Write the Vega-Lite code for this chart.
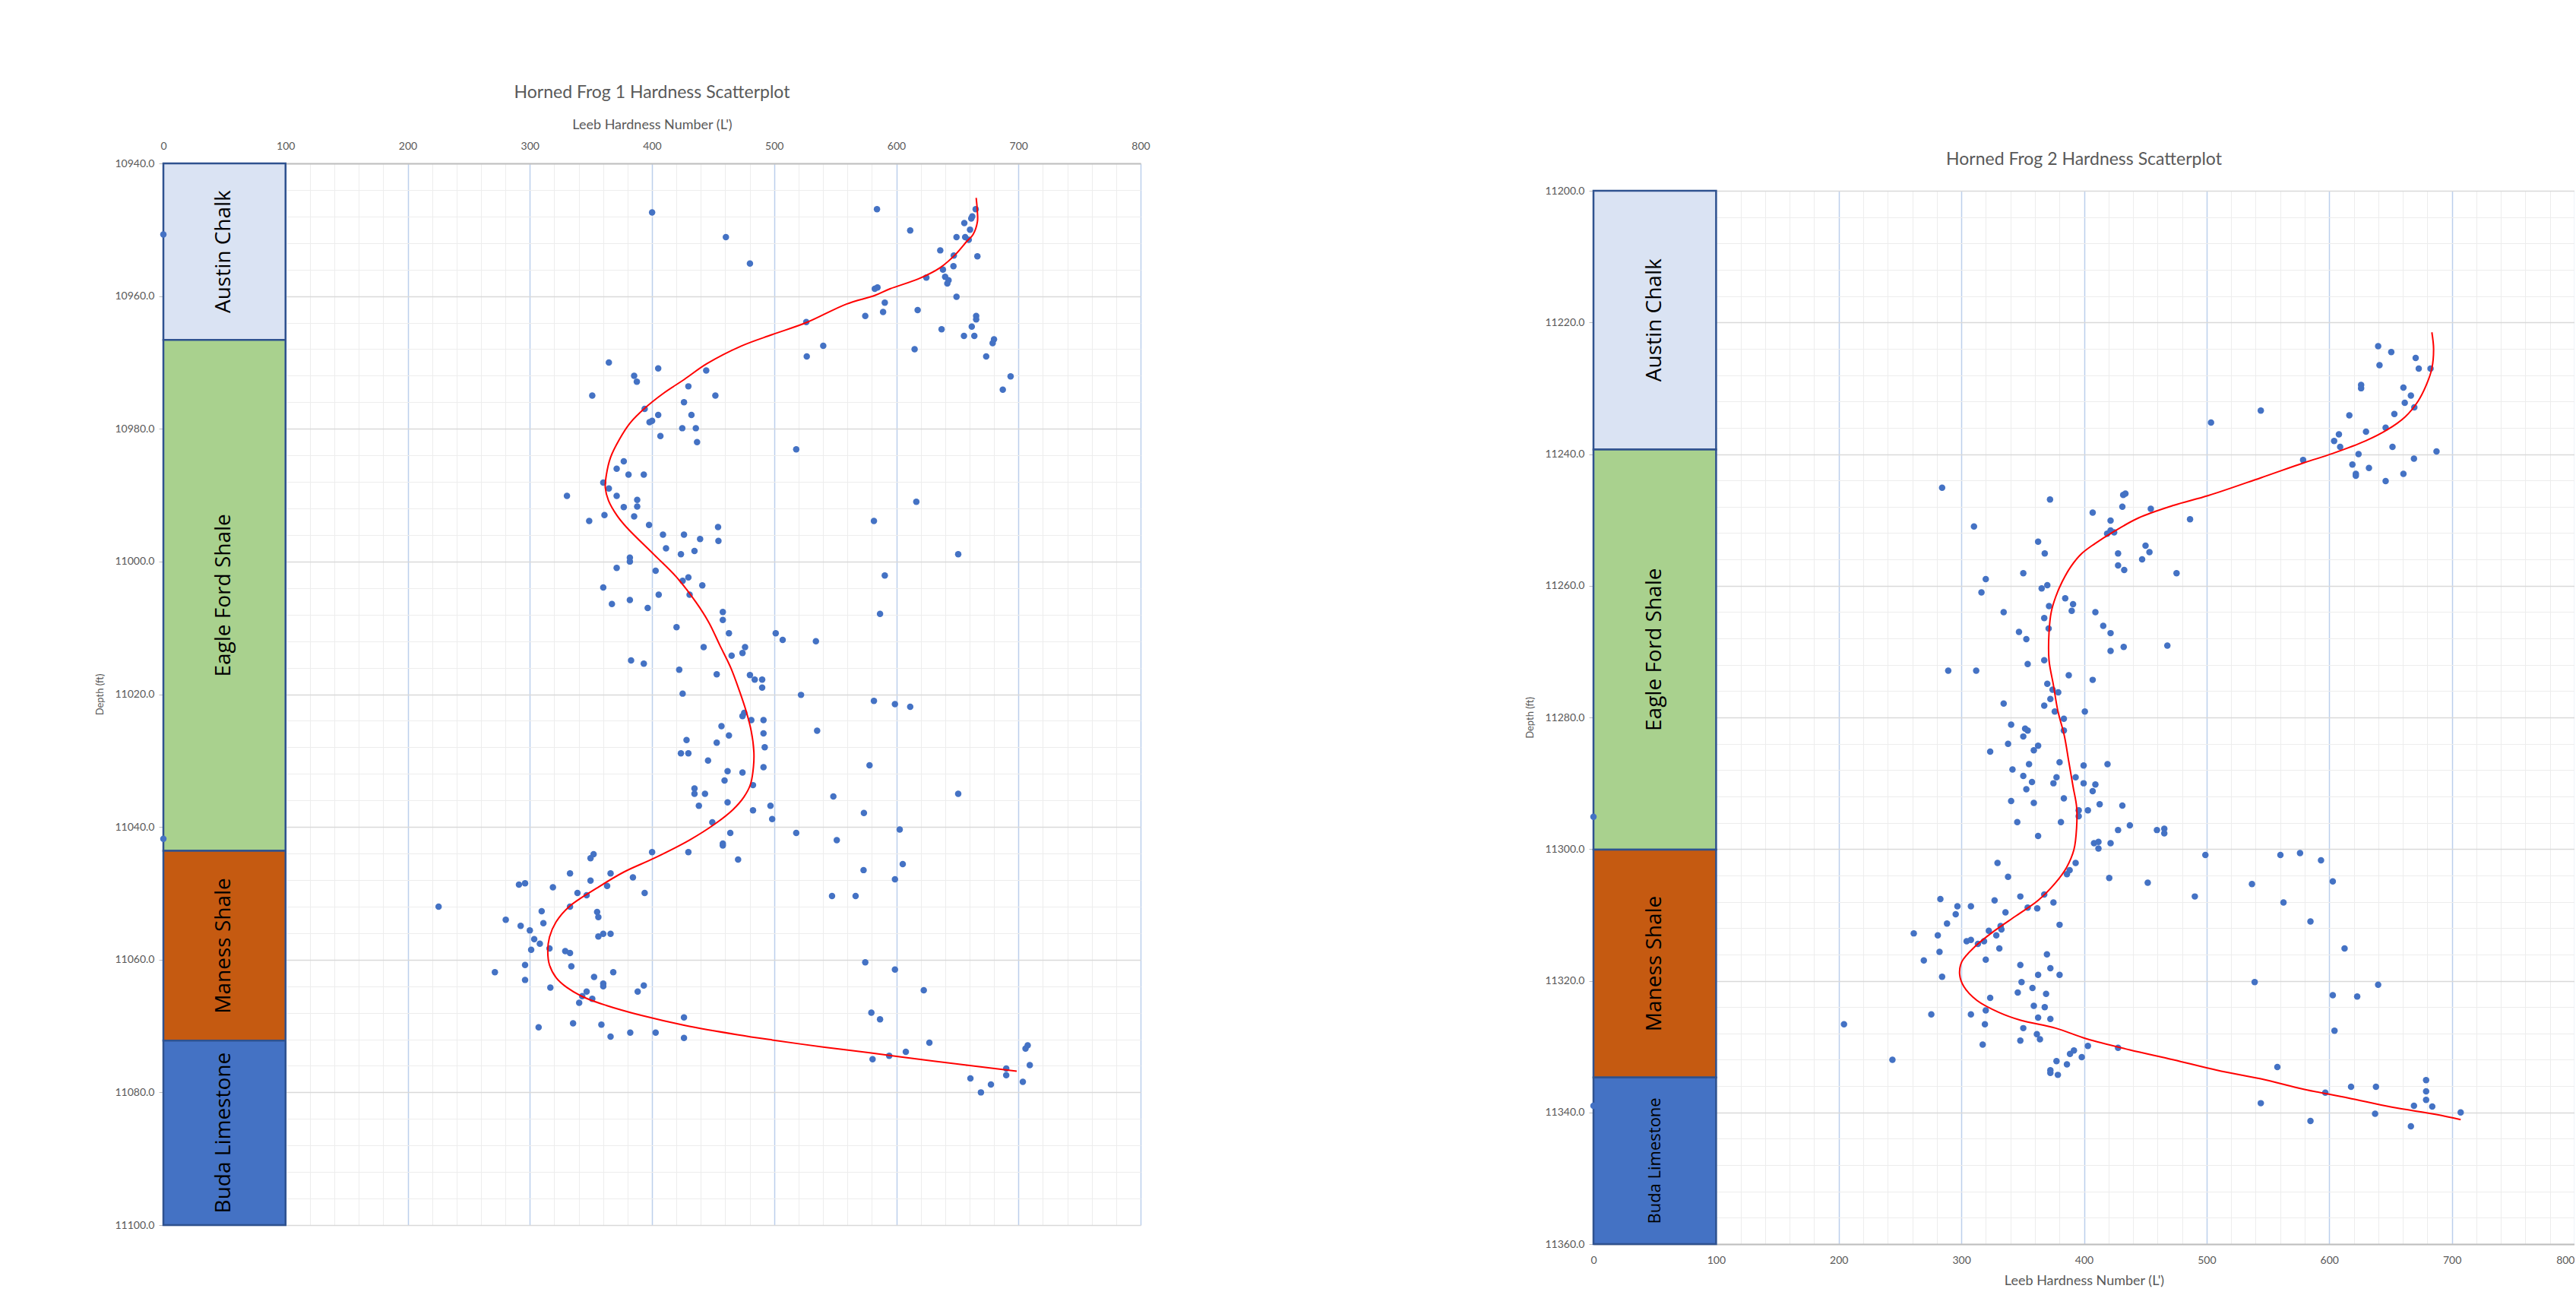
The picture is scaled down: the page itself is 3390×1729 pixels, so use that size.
{
  "$schema": "https://vega.github.io/schema/vega-lite/v6.json",
  "background": "white",
  "padding": {"left": 125, "top": 111, "right": 0, "bottom": 0},
  "spacing": 493,
  "align": "none",
  "bounds": "full",
  "resolve": {"scale": {"x": "independent", "y": "independent"}},
  "config": {
    "view": {"stroke": null},
    "font": "Lato",
    "axis": {"labelFont": "Lato", "titleFont": "Lato", "labelColor": "#595959", "titleColor": "#595959", "labelFontSize": 14, "titleFontSize": 18, "titleFontWeight": "normal", "labelFlush": false},
    "title": {"font": "Lato", "fontSize": 23, "fontWeight": "normal", "color": "#595959"}
  },
  "datasets": {
    "hf1_layers": [
      {"name": "Austin Chalk", "top": 10940, "bottom": 10966.6},
      {"name": "Eagle Ford Shale", "top": 10966.6, "bottom": 11043.6},
      {"name": "Maness Shale", "top": 11043.6, "bottom": 11072.2},
      {"name": "Buda Limestone", "top": 11072.2, "bottom": 11100}
    ],
    "hf2_layers": [
      {"name": "Austin Chalk", "top": 11200, "bottom": 11239.3},
      {"name": "Eagle Ford Shale", "top": 11239.3, "bottom": 11300.1},
      {"name": "Maness Shale", "top": 11300.1, "bottom": 11334.7},
      {"name": "Buda Limestone", "top": 11334.7, "bottom": 11360}
    ],
    "hf1_points": [
      {"h":0,"d":10950.7},{"h":0,"d":11041.8},
      {"h":400.1,"d":10947.4},{"h":584.2,"d":10946.9},{"h":665,"d":10946.9},{"h":662.2,"d":10948.0},{"h":661.4,"d":10948.3},{"h":655.7,"d":10949.0},{"h":660.4,"d":10950.0},{"h":611.4,"d":10950.1},{"h":460.5,"d":10951.1},{"h":649.3,"d":10951.1},{"h":656.4,"d":10951.1},{"h":659.3,"d":10951.5},{"h":636,"d":10953.1},{"h":647.1,"d":10953.9},{"h":666.4,"d":10954.0},{"h":480.2,"d":10955.1},{"h":646.8,"d":10955.5},{"h":638.2,"d":10956.0},{"h":624.6,"d":10957.2},{"h":640,"d":10957.1},{"h":642.8,"d":10957.6},{"h":641.8,"d":10958.1},{"h":582.4,"d":10958.9},{"h":584.6,"d":10958.7},{"h":649.3,"d":10960.1},{"h":590.6,"d":10961.0},{"h":617.5,"d":10962.1},{"h":589.2,"d":10962.4},{"h":574.6,"d":10963.0},{"h":665.4,"d":10963.0},{"h":665.4,"d":10963.5},{"h":526.3,"d":10963.9},{"h":661.8,"d":10964.6},{"h":637.1,"d":10965.0},{"h":655.4,"d":10966.0},{"h":663.9,"d":10966.0},{"h":680,"d":10966.5},{"h":678.9,"d":10967.1},{"h":540.2,"d":10967.5},{"h":615,"d":10968.0},{"h":526.7,"d":10969.1},{"h":673.6,"d":10969.1},{"h":364.7,"d":10970.0},{"h":405.1,"d":10970.9},{"h":444.4,"d":10971.2},{"h":385.4,"d":10972.0},{"h":387.6,"d":10972.9},{"h":693.6,"d":10972.1},{"h":687.2,"d":10974.1},{"h":429.8,"d":10973.6},{"h":351.1,"d":10975.0},{"h":451.9,"d":10975.0},{"h":426.2,"d":10976.0},{"h":394,"d":10977.0},{"h":405.1,"d":10977.9},{"h":432.3,"d":10977.9},{"h":400.1,"d":10978.8},{"h":398,"d":10979.0},{"h":424.8,"d":10979.9},{"h":435.9,"d":10979.9},{"h":406.9,"d":10981.1},{"h":436.9,"d":10982.0},{"h":518.1,"d":10983.1},{"h":376.9,"d":10984.9},{"h":371.1,"d":10986.0},{"h":380.8,"d":10986.9},{"h":393.3,"d":10986.9},{"h":360.1,"d":10988.1},{"h":364.7,"d":10989.0},{"h":330.4,"d":10990.1},{"h":371.1,"d":10990.1},{"h":387.9,"d":10990.7},{"h":387.9,"d":10991.7},{"h":376.9,"d":10991.8},{"h":616.4,"d":10991.0},{"h":361.1,"d":10993.0},{"h":385.4,"d":10993.2},{"h":348.6,"d":10993.9},{"h":581.7,"d":10993.9},{"h":397.6,"d":10994.5},{"h":454.1,"d":10994.8},
      {"h":409,"d":10995.95},{"h":426.2,"d":10995.95},{"h":439.4,"d":10996.6},{"h":454.4,"d":10996.9},{"h":411.5,"d":10998.0},{"h":423.7,"d":10998.9},{"h":434.8,"d":10998.4},{"h":650.7,"d":10998.9},{"h":381.9,"d":10999.4},{"h":381.9,"d":11000.0},{"h":371.1,"d":11000.95},{"h":403,"d":11001.4},{"h":429.8,"d":11002.4},{"h":425.1,"d":11002.9},{"h":441.2,"d":11003.6},{"h":590.6,"d":11002.1},{"h":360.1,"d":11003.9},{"h":405.5,"d":11005.0},{"h":430.8,"d":11005.0},{"h":367.2,"d":11006.4},{"h":381.9,"d":11005.8},{"h":396.5,"d":11007.0},{"h":458,"d":11007.6},{"h":458,"d":11008.8},{"h":586.7,"d":11007.9},{"h":420.1,"d":11009.9},{"h":463,"d":11010.8},{"h":501.3,"d":11010.8},{"h":507,"d":11011.8},{"h":534.2,"d":11012.0},{"h":442.3,"d":11012.9},{"h":476.2,"d":11012.9},{"h":474.1,"d":11013.8},{"h":465.2,"d":11014.2},{"h":382.9,"d":11014.9},{"h":393.3,"d":11015.4},{"h":422.3,"d":11016.3},{"h":453,"d":11017.0},{"h":480.2,"d":11017.1},{"h":484.1,"d":11017.8},{"h":490.2,"d":11017.8},{"h":490.2,"d":11019.0},{"h":425.1,"d":11019.9},{"h":522,"d":11020.1},{"h":581.7,"d":11021.0},{"h":598.9,"d":11021.5},{"h":611.4,"d":11021.9},{"h":475.5,"d":11022.8},{"h":474.1,"d":11023.3},{"h":481.3,"d":11023.9},{"h":491.3,"d":11023.9},{"h":456.9,"d":11024.8},{"h":463,"d":11026.2},{"h":491.3,"d":11025.9},{"h":535.2,"d":11025.5},{"h":428.3,"d":11026.9},{"h":453,"d":11027.3},{"h":492.3,"d":11028.0},{"h":423.7,"d":11028.9},{"h":429.8,"d":11028.9},{"h":445.9,"d":11030.0},{"h":578.1,"d":11030.7},{"h":491.3,"d":11031.0},{"h":461.9,"d":11031.6},{"h":474.1,"d":11031.8},{"h":459.4,"d":11033.0},{"h":482.7,"d":11033.7},{"h":434.8,"d":11034.2},{"h":434.8,"d":11035.0},{"h":443.4,"d":11035.0},{"h":650.7,"d":11035.0},{"h":548.5,"d":11035.4},{"h":461.9,"d":11036.3},{"h":438.4,"d":11036.8},{"h":497,"d":11036.8},{"h":482.7,"d":11037.5},{"h":573.5,"d":11037.9},{"h":498.4,"d":11038.8},{"h":449.4,"d":11039.3},{"h":602.8,"d":11040.4},{"h":464.1,"d":11040.9},{"h":518.1,"d":11040.9},{"h":551.3,"d":11042.0},{"h":458,"d":11042.5},{"h":458,"d":11042.8},{"h":400.1,"d":11043.8},{"h":429.8,"d":11043.8},{"h":352.2,"d":11044.1},{"h":349.7,"d":11044.7},{"h":470.5,"d":11044.9},{"h":605.3,"d":11045.6},{"h":573.2,"d":11046.5},{"h":332.9,"d":11047.0},{"h":366.1,"d":11047.0},{"h":349.7,"d":11048.1},{"h":384.4,"d":11047.6},{"h":598.9,"d":11047.9},{"h":291.1,"d":11048.7},{"h":296.1,"d":11048.5},{"h":318.9,"d":11049.1},{"h":363.3,"d":11048.9},
      {"h":339,"d":11049.95},{"h":346.5,"d":11050.3},{"h":394,"d":11049.95},{"h":225.3,"d":11052.0},{"h":547.4,"d":11050.4},{"h":566.7,"d":11050.4},{"h":332.9,"d":11052.0},{"h":309.7,"d":11052.7},{"h":355.1,"d":11052.8},{"h":356.1,"d":11053.6},{"h":280.3,"d":11054.0},{"h":311.1,"d":11054.5},{"h":292.5,"d":11054.9},{"h":300,"d":11055.6},{"h":360.1,"d":11056.1},{"h":366.1,"d":11056.1},{"h":356.1,"d":11056.5},{"h":303.6,"d":11056.9},{"h":308.2,"d":11057.6},{"h":301.1,"d":11058.5},{"h":316.1,"d":11058.3},{"h":329,"d":11058.7},{"h":332.9,"d":11059.0},{"h":574.6,"d":11060.4},{"h":598.9,"d":11061.5},{"h":296.1,"d":11060.8},{"h":334,"d":11061.0},{"h":271.4,"d":11061.9},{"h":368.3,"d":11061.9},{"h":296.1,"d":11063.05},{"h":352.6,"d":11062.6},{"h":360.1,"d":11063.6},{"h":360.1,"d":11064.0},{"h":393.3,"d":11063.9},{"h":316.8,"d":11064.2},{"h":622.5,"d":11064.6},{"h":388.3,"d":11064.8},{"h":346.5,"d":11064.8},{"h":342.9,"d":11065.5},{"h":351.1,"d":11065.9},{"h":340.4,"d":11066.5},{"h":579.6,"d":11068.0},{"h":586.7,"d":11069.0},{"h":426.2,"d":11068.7},{"h":307.2,"d":11070.2},{"h":335.4,"d":11069.6},{"h":358.6,"d":11069.8},{"h":366.1,"d":11071.6},{"h":382.2,"d":11071.0},{"h":403,"d":11071.0},{"h":426.2,"d":11071.8},{"h":627.1,"d":11072.5},{"h":707.6,"d":11072.9},{"h":705.8,"d":11073.4},{"h":607.8,"d":11073.9},{"h":594.2,"d":11074.5},{"h":580.6,"d":11075.0},{"h":709.3,"d":11075.9},{"h":690,"d":11076.4},{"h":690,"d":11077.4},{"h":660.7,"d":11077.9},{"h":703.6,"d":11078.4},{"h":677.5,"d":11078.8},{"h":669.3,"d":11080.0}
    ],
    "hf1_trend": [
      {"h":665.4,"d":10945.2},{"h":666.4,"d":10947.3},{"h":666.4,"d":10948.8},{"h":662.9,"d":10950.7},{"h":657.5,"d":10951.8},{"h":648.6,"d":10953.7},{"h":636,"d":10955.7},{"h":618.2,"d":10957.4},{"h":594.9,"d":10958.9},{"h":582.4,"d":10959.9},{"h":559.2,"d":10961.2},{"h":526.3,"d":10964.0},{"h":498.4,"d":10965.8},{"h":473.4,"d":10967.5},{"h":444.8,"d":10970.2},{"h":426.9,"d":10972.5},{"h":409,"d":10974.7},{"h":394.7,"d":10976.8},{"h":382.2,"d":10979.1},{"h":373.3,"d":10981.6},{"h":366.1,"d":10984.3},{"h":362.6,"d":10987.0},{"h":361.8,"d":10988.9},{"h":364.4,"d":10990.8},{"h":371.5,"d":10993.1},{"h":379,"d":10994.8},{"h":401.9,"d":10999.0},{"h":419.8,"d":11002.3},{"h":435.9,"d":11006.1},{"h":446.6,"d":11009.2},{"h":455.5,"d":11012.6},{"h":464.5,"d":11016.0},{"h":471.6,"d":11019.5},{"h":477,"d":11022.5},{"h":481.3,"d":11025.6},{"h":483.4,"d":11028.6},{"h":483.1,"d":11030.9},{"h":480.6,"d":11033.6},{"h":475.2,"d":11035.5},{"h":466.2,"d":11037.4},{"h":451.9,"d":11039.5},{"h":430.5,"d":11042.0},{"h":401.9,"d":11044.7},{"h":376.9,"d":11046.8},{"h":355,"d":11049.2},{"h":332.2,"d":11052.0},{"h":321.5,"d":11054.3},{"h":316.1,"d":11056.6},{"h":314.7,"d":11058.8},{"h":316.1,"d":11060.8},{"h":321.5,"d":11062.7},{"h":330.4,"d":11064.2},{"h":344.7,"d":11065.7},{"h":362.6,"d":11066.9},{"h":391.2,"d":11068.4},{"h":426.9,"d":11069.9},{"h":469.8,"d":11071.3},{"h":498.4,"d":11072.1},{"h":541.3,"d":11073.2},{"h":577,"d":11074.0},{"h":630.7,"d":11075.3},{"h":666.4,"d":11076.1},{"h":698.6,"d":11076.8}
    ],
    "hf2_points": [
      {"h":0,"d":11295.1},{"h":0,"d":11339.0},
      {"h":639.9,"d":11223.6},{"h":650.6,"d":11224.5},{"h":670.5,"d":11225.4},{"h":641,"d":11226.5},{"h":673,"d":11227.0},{"h":682.6,"d":11227.0},{"h":626,"d":11229.5},{"h":626,"d":11230.0},{"h":660.5,"d":11229.9},{"h":666.6,"d":11231.1},{"h":661.6,"d":11232.2},{"h":669.4,"d":11232.9},{"h":544.2,"d":11233.4},{"h":616.4,"d":11234.1},{"h":653.1,"d":11233.9},{"h":503.6,"d":11235.2},{"h":646,"d":11236.0},{"h":630,"d":11236.6},{"h":607.9,"d":11237.0},{"h":604,"d":11238.0},{"h":608.9,"d":11238.9},{"h":651.6,"d":11238.9},{"h":687.5,"d":11239.6},{"h":623.9,"d":11240.0},{"h":578.7,"d":11240.9},{"h":669.1,"d":11240.7},{"h":618.9,"d":11241.6},{"h":632.4,"d":11242.1},{"h":621.7,"d":11243.0},{"h":621.7,"d":11243.3},{"h":660.5,"d":11243.0},{"h":646,"d":11244.1},{"h":284.3,"d":11245.1},{"h":372.3,"d":11246.9},{"h":432,"d":11246.2},{"h":433.8,"d":11246.0},{"h":431.3,"d":11248.0},{"h":454.5,"d":11248.3},{"h":407.1,"d":11248.9},{"h":486.5,"d":11249.9},{"h":310.3,"d":11251.0},{"h":421.7,"d":11250.1},{"h":421.7,"d":11251.6},{"h":418.9,"d":11252.1},{"h":424.6,"d":11251.9},{"h":362.6,"d":11253.3},{"h":368,"d":11255.1},{"h":427.8,"d":11255.1},{"h":450.2,"d":11253.9},{"h":453.4,"d":11254.9},{"h":447.4,"d":11256.0},{"h":427.8,"d":11256.9},{"h":432.8,"d":11257.6},{"h":350.5,"d":11258.1},{"h":475.5,"d":11258.1},{"h":319.9,"d":11259.0},{"h":365.5,"d":11260.4},{"h":370.1,"d":11259.9},{"h":316.4,"d":11261.0},{"h":384.7,"d":11261.9},{"h":391.1,"d":11262.8},{"h":390,"d":11263.8},{"h":371.5,"d":11263.1},{"h":334.5,"d":11264.0},{"h":409.3,"d":11264.0},{"h":367.6,"d":11264.9},{"h":415.7,"d":11266.1},{"h":371.2,"d":11266.5},{"h":347,"d":11267.0},{"h":421.7,"d":11267.2},{"h":353,"d":11268.1},{"h":432.4,"d":11269.3},{"h":468,"d":11269.1},{"h":421.7,"d":11269.9},{"h":367.6,"d":11271.3},{"h":354.1,"d":11271.9},
      {"h":289.3,"d":11272.9},{"h":312.1,"d":11272.9},{"h":387.6,"d":11273.6},{"h":407.1,"d":11274.3},{"h":370.1,"d":11274.9},{"h":374.4,"d":11275.8},{"h":379,"d":11276.2},{"h":372.6,"d":11277.2},{"h":334.5,"d":11277.9},{"h":367.6,"d":11278.2},{"h":376.2,"d":11279.1},{"h":400.7,"d":11279.1},{"h":383.6,"d":11280.2},{"h":340.6,"d":11281.1},{"h":352,"d":11281.7},{"h":354.1,"d":11282.0},{"h":383.6,"d":11282.0},{"h":350.5,"d":11282.9},{"h":338.1,"d":11284.0},{"h":362.6,"d":11284.3},{"h":359.1,"d":11285.0},{"h":323.5,"d":11285.2},{"h":355.2,"d":11287.1},{"h":380.1,"d":11286.8},{"h":399.7,"d":11287.3},{"h":419.2,"d":11287.1},{"h":341.7,"d":11287.9},{"h":350.5,"d":11288.9},{"h":377.6,"d":11289.1},{"h":393.2,"d":11289.1},{"h":357.6,"d":11289.8},{"h":375.1,"d":11290.0},{"h":399.7,"d":11290.0},{"h":409.3,"d":11290.2},{"h":407.1,"d":11291.2},{"h":353,"d":11290.9},{"h":383.6,"d":11292.3},{"h":340.6,"d":11292.7},{"h":359.1,"d":11293.0},{"h":412.8,"d":11293.2},{"h":431.3,"d":11293.4},{"h":395.7,"d":11294.1},{"h":403.2,"d":11294.1},{"h":395.7,"d":11295.0},{"h":345.6,"d":11295.9},{"h":381.2,"d":11295.9},{"h":437.4,"d":11296.4},{"h":427.8,"d":11297.1},{"h":459.5,"d":11297.1},{"h":465.5,"d":11296.9},{"h":465.5,"d":11297.6},{"h":362.6,"d":11298.0},{"h":408.2,"d":11299.1},{"h":411.8,"d":11298.9},{"h":421.7,"d":11299.1},{"h":411.8,"d":11299.9},{"h":499,"d":11300.9},{"h":560.2,"d":11300.9},{"h":576.2,"d":11300.6},{"h":593.3,"d":11301.7},{"h":329.5,"d":11302.1},{"h":393.2,"d":11302.1},{"h":388.3,"d":11303.2},{"h":386.1,"d":11303.8},{"h":338.1,"d":11304.2},{"h":420.6,"d":11304.4},{"h":452,"d":11305.1},{"h":537,"d":11305.3},{"h":602.9,"d":11304.9},{"h":490.4,"d":11307.2},{"h":282.9,"d":11307.6},{"h":327.1,"d":11307.8},{"h":348.1,"d":11307.2},{"h":367.6,"d":11306.9},{"h":375.1,"d":11308.1},{"h":562.7,"d":11308.1},{"h":296.8,"d":11308.7},{"h":307.8,"d":11308.7},{"h":354.1,"d":11308.9},{"h":361.9,"d":11309.0},{"h":295.4,"d":11309.9},{"h":336,"d":11309.6},{"h":288.3,"d":11311.3},{"h":380.1,"d":11311.5},{"h":584.7,"d":11311.0},{"h":332,"d":11311.7},{"h":322.4,"d":11312.4},{"h":332.7,"d":11312.2},{"h":261.2,"d":11312.8},{"h":280.8,"d":11313.1},{"h":328.5,"d":11313.1},{"h":304.3,"d":11314.0},{"h":307.8,"d":11313.8},{"h":313.5,"d":11314.4},{"h":318.5,"d":11314.0},{"h":331,"d":11315.1},{"h":612.5,"d":11315.1},{"h":282.2,"d":11315.6},{"h":369.8,"d":11316.0},{"h":269.4,"d":11316.9},{"h":319.9,"d":11316.8},{"h":348.1,"d":11317.6},{"h":372.6,"d":11318.1},{"h":362.6,"d":11319.1},{"h":380.1,"d":11319.1},{"h":284.3,"d":11319.4},{"h":539.2,"d":11320.2},{"h":639.9,"d":11320.6},{"h":349.1,"d":11320.2},{"h":358,"d":11321.1},{"h":346,"d":11321.8},{"h":369.1,"d":11322.0},{"h":602.9,"d":11322.2},{"h":622.8,"d":11322.4},{"h":323.5,"d":11322.6},{"h":359.1,"d":11323.8},{"h":368,"d":11324.0},{"h":319.9,"d":11324.5},{"h":275.5,"d":11325.1},{"h":307.8,"d":11325.1},{"h":362.6,"d":11325.6},{"h":372.6,"d":11325.8},{"h":319.2,"d":11326.6},{"h":204.3,"d":11326.6},
      {"h":350.5,"d":11327.2},{"h":604.3,"d":11327.6},{"h":361.6,"d":11328.1},{"h":364.1,"d":11328.9},{"h":348.1,"d":11329.1},{"h":317.4,"d":11329.7},{"h":403.2,"d":11329.9},{"h":427.8,"d":11330.2},{"h":391.8,"d":11330.6},{"h":388.6,"d":11331.1},{"h":398.2,"d":11331.6},{"h":243.8,"d":11332.0},{"h":377.6,"d":11332.2},{"h":386.1,"d":11332.7},{"h":557.7,"d":11333.1},{"h":372.6,"d":11333.6},{"h":372.6,"d":11334.0},{"h":378.7,"d":11334.3},{"h":679,"d":11335.1},{"h":617.8,"d":11336.1},{"h":638.1,"d":11336.1},{"h":679,"d":11336.8},{"h":596.8,"d":11337.0},{"h":679,"d":11338.1},{"h":544.2,"d":11338.6},{"h":669.1,"d":11339.0},{"h":684,"d":11339.1},{"h":707.2,"d":11340.0},{"h":637.4,"d":11340.2},{"h":584.7,"d":11341.3},{"h":666.6,"d":11342.1}
    ],
    "hf2_trend": [
      {"h":683.7,"d":11221.5},{"h":685.1,"d":11224.0},{"h":683.7,"d":11227.0},{"h":679.4,"d":11229.4},{"h":672.3,"d":11232.0},{"h":661.6,"d":11234.4},{"h":647.4,"d":11236.3},{"h":629.6,"d":11238.0},{"h":602.9,"d":11239.9},{"h":579.7,"d":11241.3},{"h":544.2,"d":11243.6},{"h":501.5,"d":11246.3},{"h":473,"d":11247.8},{"h":444.5,"d":11249.7},{"h":423.2,"d":11251.9},{"h":408.9,"d":11253.6},{"h":398.2,"d":11255.1},{"h":389.3,"d":11257.1},{"h":382.2,"d":11259.4},{"h":376.9,"d":11261.7},{"h":373.3,"d":11264.0},{"h":371.5,"d":11267.1},{"h":371.5,"d":11271.3},{"h":375.1,"d":11275.1},{"h":378.7,"d":11279.0},{"h":384,"d":11282.8},{"h":387.6,"d":11286.7},{"h":391.1,"d":11290.5},{"h":394,"d":11293.6},{"h":394,"d":11296.7},{"h":391.8,"d":11300.1},{"h":385.8,"d":11302.8},{"h":376.9,"d":11305.1},{"h":362.6,"d":11307.8},{"h":344.9,"d":11310.1},{"h":327.1,"d":11312.4},{"h":311.1,"d":11314.8},{"h":300.4,"d":11317.1},{"h":298.6,"d":11319.0},{"h":302.1,"d":11320.9},{"h":312.8,"d":11323.0},{"h":330.6,"d":11324.8},{"h":348.4,"d":11326.0},{"h":376.9,"d":11327.2},{"h":401.8,"d":11328.8},{"h":437.4,"d":11330.5},{"h":473,"d":11332.0},{"h":508.6,"d":11333.6},{"h":544.2,"d":11334.9},{"h":579.8,"d":11336.5},{"h":615.4,"d":11337.8},{"h":651,"d":11339.2},{"h":686.6,"d":11340.3},{"h":707.2,"d":11341.1}
    ]
  },
  "hconcat": [
    {
      "width": 1286,
      "height": 1397,
      "title": {"text": "Horned Frog 1 Hardness Scatterplot", "offset": 21},
      "resolve": {"axis": {"x": "independent", "y": "independent"}},
      "layer": [
        {
          "data": {"name": "hf1_layers"},
          "mark": {"type": "rect", "stroke": "#2F528F", "strokeWidth": 2.5},
          "encoding": {
            "x": {"datum": 0, "type": "quantitative", "scale": {"domain": [0, 800], "nice": false, "zero": false},
                  "axis": {"orient": "top", "values": [20,40,60,80,120,140,160,180,220,240,260,280,320,340,360,380,420,440,460,480,520,540,560,580,620,640,660,680,720,740,760,780], "grid": true, "gridColor": "#EDEDED", "gridWidth": 1, "labels": false, "ticks": false, "domain": false, "title": null}},
            "x2": {"datum": 100},
            "y": {"field": "top", "type": "quantitative", "scale": {"domain": [10940, 11100], "reverse": true, "nice": false, "zero": false},
                  "axis": {"orient": "left", "values": [10944,10948,10952,10956,10964,10968,10972,10976,10984,10988,10992,10996,11004,11008,11012,11016,11024,11028,11032,11036,11044,11048,11052,11056,11064,11068,11072,11076,11084,11088,11092,11096], "grid": true, "gridColor": "#EDEDED", "gridWidth": 1, "labels": false, "ticks": false, "domain": false, "title": null}},
            "y2": {"field": "bottom"},
            "fill": {"field": "name", "type": "nominal", "legend": null,
                     "scale": {"domain": ["Austin Chalk", "Eagle Ford Shale", "Maness Shale", "Buda Limestone"], "range": ["#DAE3F3", "#A9D18E", "#C55A11", "#4472C4"]}}
          }
        },
        {
          "data": {"name": "hf1_points"},
          "mark": {"type": "circle", "size": 72, "color": "#4472C4", "opacity": 1},
          "encoding": {
            "x": {"field": "h", "type": "quantitative",
                  "axis": {"orient": "top", "values": [0,100,200,300,400,500,600,700,800], "grid": true, "gridColor": "#BCCFEC", "gridWidth": 1.5, "ticks": false, "tickSize": 0, "labelPadding": 16, "labelFlush": false, "domain": true, "domainColor": "#BFBFBF", "domainWidth": 2, "title": "Leeb Hardness Number (L')", "titlePadding": 12}},
            "y": {"field": "d", "type": "quantitative",
                  "axis": {"orient": "left", "values": [10940,10960,10980,11000,11020,11040,11060,11080,11100], "format": ".1f", "grid": true, "gridColor": "#D9D9D9", "gridWidth": 1.5, "ticks": true, "tickSize": 6, "tickColor": "#BFBFBF", "labelPadding": 6, "domain": true, "domainColor": "#BFBFBF", "title": "Depth (ft)", "titleFontSize": 13, "titlePadding": 12}}
          }
        },
        {
          "data": {"name": "hf1_trend"},
          "mark": {"type": "line", "color": "#FF0000", "strokeWidth": 2, "interpolate": "catmull-rom"},
          "encoding": {
            "x": {"field": "h", "type": "quantitative", "axis": null},
            "y": {"field": "d", "type": "quantitative", "axis": null},
            "order": {"field": "d", "type": "quantitative"}
          }
        },
        {
          "data": {"name": "hf1_layers"},
          "transform": [{"calculate": "(datum.top + datum.bottom) / 2", "as": "mid"}],
          "mark": {"type": "text", "angle": 270, "font": "Open Sans", "fontSize": 28, "color": "#000000", "align": "center", "baseline": "middle"},
          "encoding": {
            "x": {"datum": 50, "type": "quantitative", "axis": null},
            "y": {"field": "mid", "type": "quantitative", "axis": null},
            "text": {"field": "name"}
          }
        }
      ]
    },
    {
      "spacing": 0,
      "bounds": "full",
      "vconcat": [
        {
          "width": 1291,
          "height": 29,
          "title": {"text": "Horned Frog 2 Hardness Scatterplot", "offset": -7},
          "data": {"values": []},
          "mark": "point"
        },
        {
          "width": 1291,
          "height": 1386,
          "resolve": {"axis": {"x": "independent", "y": "independent"}},
          "layer": [
            {
              "data": {"name": "hf2_layers"},
              "mark": {"type": "rect", "stroke": "#2F528F", "strokeWidth": 2.5},
              "encoding": {
                "x": {"datum": 0, "type": "quantitative", "scale": {"domain": [0, 800], "nice": false, "zero": false},
                      "axis": {"orient": "bottom", "values": [20,40,60,80,120,140,160,180,220,240,260,280,320,340,360,380,420,440,460,480,520,540,560,580,620,640,660,680,720,740,760,780], "grid": true, "gridColor": "#EDEDED", "gridWidth": 1, "labels": false, "ticks": false, "domain": false, "title": null}},
                "x2": {"datum": 100},
                "y": {"field": "top", "type": "quantitative", "scale": {"domain": [11200, 11360], "reverse": true, "nice": false, "zero": false},
                      "axis": {"orient": "left", "values": [11204,11208,11212,11216,11224,11228,11232,11236,11244,11248,11252,11256,11264,11268,11272,11276,11284,11288,11292,11296,11304,11308,11312,11316,11324,11328,11332,11336,11344,11348,11352,11356], "grid": true, "gridColor": "#EDEDED", "gridWidth": 1, "labels": false, "ticks": false, "domain": false, "title": null}},
                "y2": {"field": "bottom"},
                "fill": {"field": "name", "type": "nominal", "legend": null,
                         "scale": {"domain": ["Austin Chalk", "Eagle Ford Shale", "Maness Shale", "Buda Limestone"], "range": ["#DAE3F3", "#A9D18E", "#C55A11", "#4472C4"]}}
              }
            },
            {
              "data": {"name": "hf2_points"},
              "mark": {"type": "circle", "size": 72, "color": "#4472C4", "opacity": 1},
              "encoding": {
                "x": {"field": "h", "type": "quantitative",
                      "axis": {"orient": "bottom", "values": [0,100,200,300,400,500,600,700,800], "grid": true, "gridColor": "#BCCFEC", "gridWidth": 1.5, "ticks": false, "tickSize": 0, "labelPadding": 14, "labelFlush": false, "labelAlign": {"condition": {"test": "datum.value === 800", "value": "right"}, "value": "center"}, "domain": true, "domainColor": "#BFBFBF", "domainWidth": 2, "title": "Leeb Hardness Number (L')", "titlePadding": 11}},
                "y": {"field": "d", "type": "quantitative",
                      "axis": {"orient": "left", "values": [11200,11220,11240,11260,11280,11300,11320,11340,11360], "format": ".1f", "grid": true, "gridColor": "#D9D9D9", "gridWidth": 1.5, "ticks": true, "tickSize": 6, "tickColor": "#BFBFBF", "labelPadding": 6, "domain": true, "domainColor": "#BFBFBF", "title": "Depth (ft)", "titleFontSize": 13, "titlePadding": 12}}
              }
            },
            {
              "data": {"name": "hf2_trend"},
              "mark": {"type": "line", "color": "#FF0000", "strokeWidth": 2, "interpolate": "catmull-rom"},
              "encoding": {
                "x": {"field": "h", "type": "quantitative", "axis": null},
                "y": {"field": "d", "type": "quantitative", "axis": null},
                "order": {"field": "d", "type": "quantitative"}
              }
            },
            {
              "data": {"name": "hf2_layers"},
              "transform": [{"filter": "datum.name !== 'Buda Limestone'"}, {"calculate": "(datum.top + datum.bottom) / 2", "as": "mid"}],
              "mark": {"type": "text", "angle": 270, "font": "Open Sans", "fontSize": 28, "color": "#000000", "align": "center", "baseline": "middle"},
              "encoding": {
                "x": {"datum": 50, "type": "quantitative", "axis": null},
                "y": {"field": "mid", "type": "quantitative", "axis": null},
                "text": {"field": "name"}
              }
            },
            {
              "data": {"name": "hf2_layers"},
              "transform": [{"filter": "datum.name === 'Buda Limestone'"}, {"calculate": "(datum.top + datum.bottom) / 2", "as": "mid"}],
              "mark": {"type": "text", "angle": 270, "font": "Open Sans", "fontSize": 22, "color": "#000000", "align": "center", "baseline": "middle"},
              "encoding": {
                "x": {"datum": 50, "type": "quantitative", "axis": null},
                "y": {"field": "mid", "type": "quantitative", "axis": null},
                "text": {"field": "name"}
              }
            }
          ]
        }
      ]
    }
  ]
}
